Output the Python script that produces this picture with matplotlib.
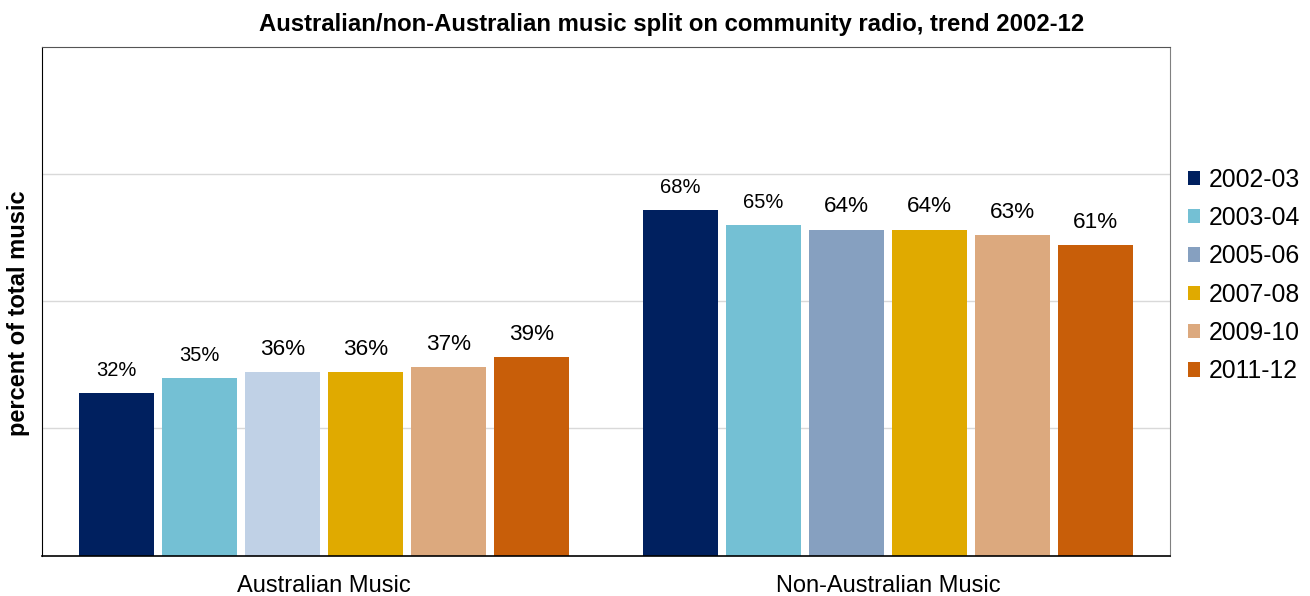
import matplotlib
matplotlib.use('Agg')
import matplotlib.pyplot as plt
import numpy as np
from matplotlib.patches import Patch

plt.rcParams['font.family'] = ['Liberation Sans', 'DejaVu Sans']

categories = ['Australian Music', 'Non-Australian Music']
years = ['2002-03', '2003-04', '2005-06', '2007-08', '2009-10', '2011-12']
australian = [32, 35, 36, 36, 37, 39]
non_australian = [68, 65, 64, 64, 63, 61]
colors = ['#00205f', '#74c0d4', '#86a0c0', '#e0aa00', '#dca97e', '#c85e09']
# the Australian 2005-06 bar is shaded lighter than its legend swatch
aus_colors = ['#00205f', '#74c0d4', '#c0d1e6', '#e0aa00', '#dca97e', '#c85e09']
label_sizes = [14.5, 14.5, 16.2, 16.2, 16.2, 16.2]

fig = plt.figure(figsize=(13.1, 5.96), dpi=100)
ax = fig.add_axes([0.032, 0.0676, 0.861, 0.854])

x = np.arange(len(categories))
pitch = 0.1474
width = 0.133
values = np.array([australian, non_australian])

for i, yr in enumerate(years):
    pos = x + (i - 2.5) * pitch
    cols = [aus_colors[i], colors[i]]
    bars = ax.bar(pos, values[:, i], width, color=cols, edgecolor='none', zorder=3)
    for b, v in zip(bars, values[:, i]):
        ax.annotate(f'{v}%', xy=(b.get_x() + b.get_width() / 2, v),
                    xytext=(0, 9), textcoords='offset points',
                    ha='center', va='bottom', fontsize=label_sizes[i])

ax.set_xlim(-0.5, 1.5)
ax.set_ylim(0, 100)
ax.set_yticks([25, 50, 75])
ax.set_yticklabels([])
ax.tick_params(axis='y', length=0)
ax.tick_params(axis='x', length=0, labelsize=17, pad=14)
ax.set_xticks(x)
ax.set_xticklabels(categories)
ax.grid(axis='y', color='#d9d9d9', linewidth=1, zorder=0)

for side in ['left', 'bottom', 'top', 'right']:
    ax.spines[side].set_zorder(5)
ax.spines['left'].set_color('#000000')
ax.spines['bottom'].set_color('#000000')
ax.spines['bottom'].set_linewidth(1.2)
ax.spines['top'].set_color('#555555')
ax.spines['right'].set_color('#808080')

ax.set_ylabel('percent of total music', fontsize=17, fontweight='bold')
ax.yaxis.set_label_coords(-0.011, 0.477)
ax.set_title('Australian/non-Australian music split on community radio, trend 2002-12',
             fontsize=17.2, fontweight='bold', pad=11, x=0.5585)

handles = [Patch(facecolor=c, edgecolor='none') for c in colors]
fig.legend(handles, years, loc='center left', bbox_to_anchor=(0.899, 0.538),
           frameon=False, fontsize=17.8, handlelength=0.52, handleheight=0.52,
           handletextpad=0.35, labelspacing=0.58, borderaxespad=0)

plt.savefig('out.png', dpi=100)
